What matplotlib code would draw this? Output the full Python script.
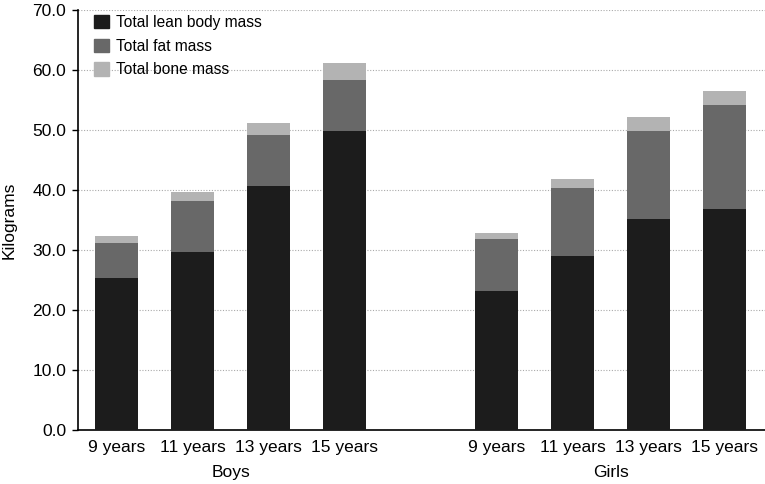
import matplotlib.pyplot as plt
from matplotlib.patches import Patch
import numpy as np

plt.rcParams['font.family'] = ['Liberation Sans', 'DejaVu Sans']

# Valeurs (kg)
groupes = ["Boys", "Girls"]
ages = ["9 years", "11 years", "13 years", "15 years"]
masse_maigre = [25.4, 29.7, 40.6, 49.9, 23.2, 29.0, 35.1, 36.8]
masse_grasse = [5.7, 8.4, 8.5, 8.5, 8.6, 11.3, 14.8, 17.4]
masse_osseuse = [1.2, 1.5, 2.1, 2.8, 1.1, 1.6, 2.2, 2.3]

couleurs = ["#1c1c1c", "#686868", "#b3b3b3"]
noms = ["Total lean body mass", "Total fat mass", "Total bone mass"]

pos = np.array([0, 1, 2, 3, 5, 6, 7, 8])
largeur = 0.57

fig = plt.figure(figsize=(7.65, 4.84), dpi=100)
ax = fig.add_axes([78 / 765, 1 - 430 / 484, 1 - 78 / 765, 420 / 484])

bas = np.zeros(len(pos))
for vals, c in zip([masse_maigre, masse_grasse, masse_osseuse], couleurs):
    ax.bar(pos, vals, largeur, bottom=bas, color=c, zorder=3)
    bas = bas + np.array(vals)

ax.set_ylim(0, 70)
ax.set_xlim(-0.507, 8.53)
ax.set_yticks(np.arange(0, 71, 10))
ax.set_yticklabels([f"{v:.1f}" for v in np.arange(0, 71, 10)])
ax.yaxis.grid(True, linestyle=(0, (1, 1.5)), color="#aaaaaa", linewidth=0.8, zorder=0)

ax.set_xticks(pos)
ax.set_xticklabels(ages * 2)
ax.tick_params(axis="x", length=0, pad=7, labelsize=12.5)
ax.tick_params(axis="y", length=4.5, width=1, pad=4, labelsize=12.5)

for s in ["top", "right"]:
    ax.spines[s].set_visible(False)
ax.spines["left"].set_linewidth(1.2)
ax.spines["bottom"].set_linewidth(1.2)

ax.set_ylabel("Kilograms", fontsize=12.5)
ax.yaxis.set_label_coords(-0.089, 0.5)

# étiquettes des groupes
for g, x in zip(groupes, [1.5, 6.5]):
    ax.text(x, -0.102, g, transform=ax.get_xaxis_transform(), ha="center", va="center", fontsize=12.5)

poignees = [Patch(color=c, label=n) for c, n in zip(couleurs, noms)]
ax.legend(handles=poignees, loc="upper left", bbox_to_anchor=(94 / 765, 1 - 15 / 484),
          bbox_transform=fig.transFigure, frameon=False, fontsize=11.2,
          handlelength=0.95, handleheight=0.95, handletextpad=0.45, labelspacing=0.55,
          borderpad=0, borderaxespad=0)

fig.savefig("out.png", dpi=100)
